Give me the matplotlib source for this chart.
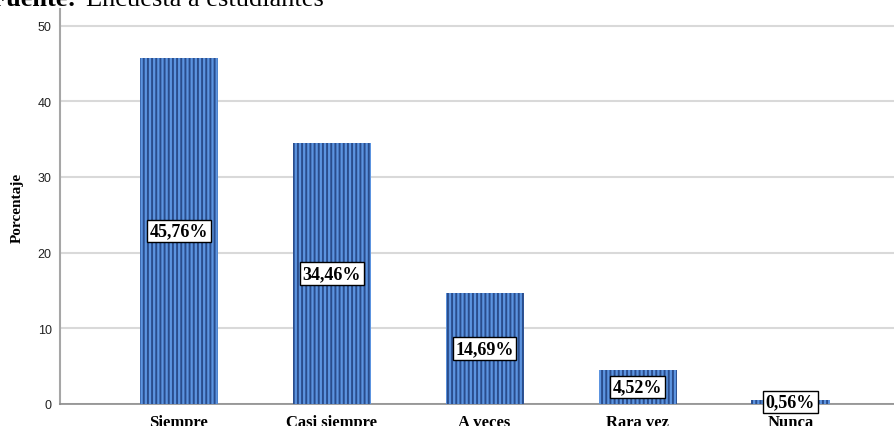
import matplotlib
matplotlib.use("Agg")
import matplotlib.pyplot as plt

categories = ["Siempre", "Casi siempre", "A veces", "Rara vez", "Nunca"]
values = [45.76, 34.46, 14.69, 4.52, 0.56]
labels = ["45,76%", "34,46%", "14,69%", "4,52%", "0,56%"]
yticks = [0, 10, 20, 30, 40, 50]

plt.rcParams['hatch.linewidth'] = 1.4
plt.rcParams['hatch.color'] = '#2a4d8c'

W, H = 895, 427
fig = plt.figure(figsize=(W / 100, H / 100), dpi=100)
ax = fig.add_axes([60 / W, 22 / H, 835 / W, 395 / H])

x = list(range(len(categories)))
bars = ax.bar(x, values, width=0.51, color='#5c94e0', edgecolor='#2a4d8c',
              hatch='||||', linewidth=0, zorder=3)

for xi, v, lab in zip(x, values, labels):
    ax.text(xi, v / 2, lab, ha='center', va='center', fontsize=13,
            fontweight='bold', family='Liberation Serif', zorder=5,
            bbox=dict(boxstyle='square,pad=0.15', facecolor='white',
                      edgecolor='black', linewidth=1))

ax.set_xlim(-0.775, 4.683)
ax.set_ylim(0, 52.2)
ax.set_yticks(yticks)
ax.set_yticklabels([str(t) for t in yticks], family='Liberation Sans',
                   fontsize=9, color='#222222')
ax.set_xticks(x)
ax.set_xticklabels(categories, family='Liberation Serif', fontsize=12,
                   fontweight='bold')
ax.tick_params(axis='y', length=0, pad=6)
ax.tick_params(axis='x', length=0, pad=7)
ax.yaxis.grid(True, color='#d9d9d9', linewidth=1.5, zorder=0)
ax.set_axisbelow(True)
for s in ['top', 'right']:
    ax.spines[s].set_visible(False)
ax.spines['left'].set_color('#a6a6a6')
ax.spines['left'].set_linewidth(1.5)
ax.spines['bottom'].set_color('#8c8c8c')
ax.spines['bottom'].set_linewidth(1.2)
ax.set_ylabel('Porcentaje', family='Liberation Serif', fontsize=11,
              fontweight='bold', labelpad=10)

fig.text(77 / W, 1 - 6 / H, 'Fuente:', ha='right', va='baseline',
         family='Liberation Serif', fontsize=19, fontweight='bold')
fig.text(86 / W, 1 - 6 / H, 'Encuesta a estudiantes', ha='left',
         va='baseline', family='Liberation Serif', fontsize=19)

fig.savefig('out.png', dpi=100)
